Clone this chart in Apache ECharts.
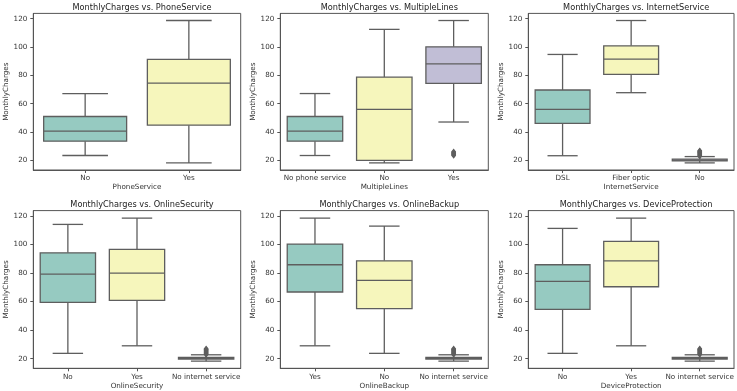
<!DOCTYPE html>
<html>
<head>
<meta charset="utf-8">
<script src="https://cdn.jsdelivr.net/npm/echarts@6/dist/echarts.min.js"></script>
<style>
html,body{margin:0;padding:0;background:#fff;}
#chart{width:737px;height:391px;}
</style>
</head>
<body>
<div id="chart"></div>
<script>
// ---- data ----
const panelTitles = ['MonthlyCharges vs. PhoneService','MonthlyCharges vs. MultipleLines','MonthlyCharges vs. InternetService','MonthlyCharges vs. OnlineSecurity','MonthlyCharges vs. OnlineBackup','MonthlyCharges vs. DeviceProtection'];
const xNames = ['PhoneService','MultipleLines','InternetService','OnlineSecurity','OnlineBackup','DeviceProtection'];
const yName = 'MonthlyCharges';
const yTicks = [20, 40, 60, 80, 100, 120];

const phoneCats = ['No', 'Yes'];
const multiCats = ['No phone service', 'No', 'Yes'];
const internetCats = ['DSL', 'Fiber optic', 'No'];
const securityCats = ['No', 'Yes', 'No internet service'];
const backupCats = ['Yes', 'No', 'No internet service'];
const deviceCats = ['No', 'Yes', 'No internet service'];

// box stats: [lower whisker, Q1, median, Q3, upper whisker]
const phoneStats = [[23.45, 33.6, 40.6, 51.0, 67.2], [18.25, 44.9, 74.5, 91.3, 118.75]];
const multiStats = [[23.45, 33.6, 40.6, 51.0, 67.2], [18.25, 20.0, 56.0, 78.8, 112.5], [47.1, 74.4, 88.2, 100.2, 118.75]];
const internetStats = [[23.3, 46.2, 56.0, 69.7, 94.8], [67.8, 80.7, 91.5, 100.9, 118.75], [18.25, 19.7, 20.15, 20.9, 22.7]];
const securityStats = [[23.7, 59.5, 79.3, 94.2, 114.1], [29.0, 60.9, 80.0, 96.6, 118.5], [18.25, 19.7, 20.15, 20.9, 22.7]];
const backupStats = [[29.0, 66.7, 85.8, 100.3, 118.5], [23.7, 55.0, 74.9, 88.6, 112.9], [18.25, 19.7, 20.15, 20.9, 22.7]];
const deviceStats = [[23.7, 54.6, 74.2, 85.8, 111.3], [29.0, 70.4, 88.6, 102.2, 118.5], [18.25, 19.7, 20.15, 20.9, 22.7]];

// outliers per category
const phoneOut = [[], []];
const multiOut = [[], [], [23.4, 24.0, 24.6, 25.1, 25.6, 26.1]];
const noNetOut = [22.9, 23.5, 24.0, 24.5, 25.0, 25.5, 26.0, 26.45, 26.9];
const internetOut = [[], [], noNetOut];
const securityOut = [[], [], noNetOut];
const backupOut = [[], [], noNetOut];
const deviceOut = [[], [], noNetOut];

// ---- layout / style ----
const palette = ['#96cac1', '#f6f6bc', '#c1bed6'];
const lineColor = '#5e5e5e';
const yMin = 13.225, yMax = 123.775;
const cols = [[33.3, 207.4], [280.3, 208], [528.3, 205.7]];
const rows = [[13.4, 156.6], [210.6, 157.7]];

const cats = [phoneCats, multiCats, internetCats, securityCats, backupCats, deviceCats];
const stats = [phoneStats, multiStats, internetStats, securityStats, backupStats, deviceStats];
const outs = [phoneOut, multiOut, internetOut, securityOut, backupOut, deviceOut];

const font = 'DejaVu Sans';

function renderBox(params, api) {
  const x = api.value(0);
  const band = api.size([1, 0])[0];
  const half = band * 0.4, capHalf = band * 0.22;
  const pMin = api.coord([x, api.value(1)]);
  const pQ1 = api.coord([x, api.value(2)]);
  const pMed = api.coord([x, api.value(3)]);
  const pQ3 = api.coord([x, api.value(4)]);
  const pMax = api.coord([x, api.value(5)]);
  const cx = pMin[0];
  const ls = {stroke: lineColor, lineWidth: 1.3};
  return {
    type: 'group',
    children: [
      {type: 'line', shape: {x1: cx, y1: pQ3[1], x2: cx, y2: pMax[1]}, style: ls},
      {type: 'line', shape: {x1: cx, y1: pQ1[1], x2: cx, y2: pMin[1]}, style: ls},
      {type: 'line', shape: {x1: cx - capHalf, y1: pMax[1], x2: cx + capHalf, y2: pMax[1]}, style: ls},
      {type: 'line', shape: {x1: cx - capHalf, y1: pMin[1], x2: cx + capHalf, y2: pMin[1]}, style: ls},
      {type: 'rect', shape: {x: cx - half, y: pQ3[1], width: 2 * half, height: Math.max(pQ1[1] - pQ3[1], 0.5)},
        style: {fill: palette[x], stroke: lineColor, lineWidth: 1.3}},
      {type: 'line', shape: {x1: cx - half, y1: pMed[1], x2: cx + half, y2: pMed[1]}, style: ls}
    ]
  };
}

const grids = [], xAxes = [], yAxes = [], series = [], titles = [];
for (let i = 0; i < 6; i++) {
  const c = cols[i % 3], r = rows[Math.floor(i / 3)];
  grids.push({left: c[0], width: c[1], top: r[0], height: r[1], show: true,
    borderColor: '#555', borderWidth: 1, backgroundColor: 'transparent', containLabel: false});
  titles.push({text: panelTitles[i], left: c[0] + c[1] / 2, top: r[0] - 14.5, textAlign: 'center',
    textStyle: {fontFamily: font, fontSize: 8.2, fontWeight: 'normal', color: '#222'}});
  xAxes.push({type: 'category', gridIndex: i, data: cats[i], boundaryGap: true,
    name: xNames[i], nameLocation: 'middle', nameGap: 14,
    nameTextStyle: {fontFamily: font, fontSize: 7.2, color: '#333'},
    axisLine: {show: true, lineStyle: {color: '#555', width: 1}},
    axisTick: {show: true, alignWithLabel: true, length: 3, lineStyle: {color: '#555'}},
    axisLabel: {fontFamily: font, fontSize: 7.2, color: '#333', margin: 5, interval: 0},
    splitLine: {show: false}});
  yAxes.push({type: 'value', gridIndex: i, min: yMin, max: yMax,
    name: yName, nameLocation: 'middle', nameGap: 19, nameRotate: 90,
    nameTextStyle: {fontFamily: font, fontSize: 7.2, color: '#333'},
    axisLine: {show: true, lineStyle: {color: '#555', width: 1}},
    axisTick: {show: true, length: 3, customValues: yTicks, lineStyle: {color: '#555'}},
    axisLabel: {fontFamily: font, fontSize: 7.2, color: '#333', margin: 6, customValues: yTicks},
    splitLine: {show: false}});
  const boxData = stats[i].map((s, k) => [k].concat(s));
  series.push({type: 'custom', xAxisIndex: i, yAxisIndex: i, renderItem: renderBox,
    encode: {x: 0, y: [1, 2, 3, 4, 5]}, data: boxData, z: 2});
  const outData = [];
  outs[i].forEach((arr, k) => arr.forEach(v => outData.push([k, v])));
  if (outData.length) {
    series.push({type: 'scatter', xAxisIndex: i, yAxisIndex: i, data: outData,
      symbol: 'diamond', symbolSize: [5, 6.5], itemStyle: {color: '#5e5e5e', opacity: 1}, z: 3});
  }
}

const chart = echarts.init(document.getElementById('chart'), null, {renderer: 'canvas'});
chart.setOption({
  animation: false,
  backgroundColor: '#ffffff',
  title: titles,
  grid: grids,
  xAxis: xAxes,
  yAxis: yAxes,
  series: series
});
</script>
</body>
</html>
